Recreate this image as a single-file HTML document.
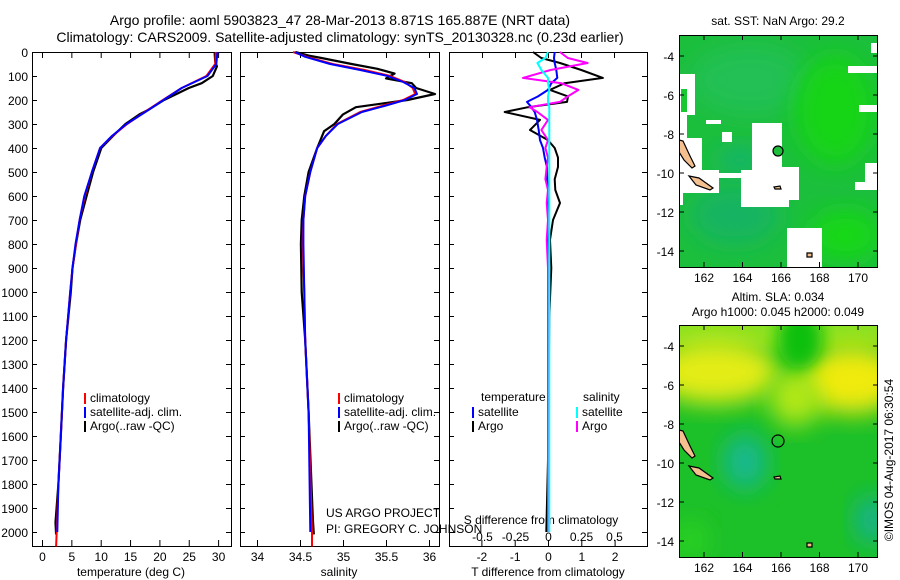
<!DOCTYPE html>
<html><head><meta charset="utf-8"><style>
html,body{margin:0;padding:0;background:#fff;}
svg{display:block;font-family:"Liberation Sans",sans-serif;}
text{font-size:12px;fill:#000;}
</style></head><body>
<svg id="fig" width="900" height="580" viewBox="0 0 900 580" xmlns="http://www.w3.org/2000/svg">
<defs>
<filter id="blur" x="-30%" y="-30%" width="160%" height="160%"><feGaussianBlur stdDeviation="12"/></filter>
<filter id="blur2" x="-30%" y="-30%" width="160%" height="160%"><feGaussianBlur stdDeviation="8"/></filter>
<clipPath id="clipTop"><rect x="679" y="35" width="198" height="232"/></clipPath>
<clipPath id="clipBot"><rect x="679" y="325" width="198" height="232"/></clipPath>
</defs>
<text x="340" y="25" text-anchor="middle" style="font-size:14px">Argo profile: aoml 5903823_47 28-Mar-2013 8.871S 165.887E (NRT data)</text>
<text x="340" y="42" text-anchor="middle" style="font-size:14px">Climatology: CARS2009. Satellite-adjusted climatology: synTS_20130328.nc (0.23d earlier)</text>
<g id="panels"></g>

<!-- top map: SST -->
<g>
<text x="778" y="25" text-anchor="middle">sat. SST: NaN Argo: 29.2</text>
<g clip-path="url(#clipTop)">
<rect x="679" y="35" width="198" height="232" fill="#1cbf3c"/>
<ellipse cx="750" cy="80" rx="60" ry="35" fill="#22c055" filter="url(#blur)"/>
<ellipse cx="835" cy="110" rx="40" ry="55" fill="#18d418" filter="url(#blur)"/>
<ellipse cx="845" cy="235" rx="35" ry="25" fill="#14d816" filter="url(#blur)"/>
<ellipse cx="735" cy="215" rx="45" ry="30" fill="#14b462" filter="url(#blur)"/>
<ellipse cx="740" cy="160" rx="25" ry="15" fill="#12b46a" filter="url(#blur)"/>
<g fill="#fff">
<rect x="679" y="74" width="16" height="41"/>
<rect x="679" y="115" width="8" height="78"/>
<rect x="679" y="138" width="23" height="32"/>
<rect x="679" y="170" width="40" height="23"/>
<rect x="719" y="173" width="22" height="5"/>
<rect x="741" y="170" width="28" height="37"/>
<rect x="752" y="123" width="30" height="50"/>
<rect x="769" y="167" width="20" height="40"/>
<rect x="789" y="167" width="10" height="33"/>
<rect x="706" y="120" width="15" height="4"/>
<rect x="722" y="132" width="10" height="10"/>
<rect x="787" y="228" width="35" height="39"/>
<rect x="848" y="66" width="29" height="7"/>
<rect x="859" y="105" width="18" height="7"/>
<rect x="871" y="43" width="6" height="10"/>
<rect x="865" y="163" width="12" height="27"/>
<rect x="855" y="182" width="13" height="8"/>
<rect x="679" y="193" width="4" height="12"/>
</g>
<rect x="681" y="89" width="6" height="23" fill="#18c830"/>
<g fill="#f5c08f" stroke="#000" stroke-width="1.2">
<polygon points="679,140 683,141 690,156 695,166 692,168 684,160 679,152"/>
<polygon points="689,176 699,178 713,188 710,190 696,185"/>
<polygon points="774,187 780,186 781,189 775,189"/>
<polygon points="807,253 812,253 812,257 807,257"/>
</g>
</g>
<circle cx="778" cy="151" r="5" fill="#1dbf3a" stroke="#000" stroke-width="1.2"/>
<rect x="679.5" y="35.5" width="198" height="232" fill="none" stroke="#000"/>
<g id="sstAxes"></g>
</g>

<!-- bottom map: SLA -->
<g>
<text x="778" y="301" text-anchor="middle">Altim. SLA: 0.034</text>
<text x="778" y="316" text-anchor="middle">Argo h1000: 0.045 h2000: 0.049</text>
<g clip-path="url(#clipBot)">
<rect x="679" y="325" width="198" height="232" fill="#1cc028"/>
<rect x="650" y="300" width="260" height="50" fill="#88e020" filter="url(#blur2)"/>
<ellipse cx="715" cy="372" rx="65" ry="32" fill="#e4ec14" filter="url(#blur)"/>
<ellipse cx="852" cy="380" rx="52" ry="34" fill="#f0ea10" filter="url(#blur)"/>
<ellipse cx="795" cy="398" rx="26" ry="28" fill="#b4e818" filter="url(#blur)"/>
<ellipse cx="800" cy="338" rx="22" ry="30" fill="#10c010" filter="url(#blur2)"/>
<ellipse cx="745" cy="462" rx="22" ry="28" fill="#14b890" filter="url(#blur)"/>
<ellipse cx="872" cy="520" rx="18" ry="25" fill="#14b28a" filter="url(#blur)"/>
<ellipse cx="690" cy="540" rx="20" ry="20" fill="#2cd020" filter="url(#blur)"/>
<g fill="#f5c08f" stroke="#000" stroke-width="1.2">
<polygon points="679,430 683,431 690,446 695,456 692,458 684,450 679,442"/>
<polygon points="689,466 699,468 713,478 710,480 696,475"/>
<polygon points="774,477 780,476 781,479 775,479"/>
<polygon points="807,543 812,543 812,547 807,547"/>
</g>
</g>
<circle cx="778" cy="441" r="6" fill="none" stroke="#000" stroke-width="1.2"/>
<rect x="679.5" y="325.5" width="198" height="232" fill="none" stroke="#000"/>
<g id="slaAxes"></g>
</g>
<text transform="translate(893,460) rotate(-90)" text-anchor="middle">©IMOS 04-Aug-2017 06:30:54</text>
<text x="326" y="517">US ARGO PROJECT</text>
<text x="326" y="533">PI: GREGORY C. JOHNSON</text>
</svg>
<script>
// ---- data ----
const depthTicks = [0,100,200,300,400,500,600,700,800,900,1000,1100,1200,1300,1400,1500,1600,1700,1800,1900,2000];
const tempTicks = [0,5,10,15,20,25,30];
const salTicks = [34,34.5,35,35.5,36];
const tdiffTicks = [-2,-1,0,1,2];
const sdiffTicks = [-0.5,-0.25,0,0.25,0.5];

const tDepth = [0,50,100,150,200,250,300,350,400,500,600,700,800,900,1000,1200,1400,1600,1800,2000,2060];
const tempClim = [29.6,29.5,28,23.8,20.6,17.5,14.5,12,9.9,8.5,7.3,6.4,5.8,5.2,4.8,4.1,3.6,3.2,2.8,2.5,2.4];
const tempSat  = [29.9,29.7,28.2,23.8,20.7,17.6,14.4,11.9,9.9,8.5,7.2,6.4,5.7,5.2,4.8,4.1,3.6,3.2,2.8,2.6,2.6];
const aDepth = [0,40,60,100,130,150,200,240,260,300,350,400,500,600,700,800,900,1000,1200,1400,1600,1800,1960,2010];
const tempArgo = [29.4,29.5,29.8,29.1,27.2,25,20.8,18.2,16.6,14.2,12.1,10.1,8.7,7.6,6.5,5.8,5.2,4.9,4.1,3.6,3.2,2.8,2.3,2.4];

const sDepth = [0,20,50,75,100,125,150,175,200,225,250,300,350,400,500,600,700,800,1000,1200,1500,2000,2060];
const salClim = [34.42,34.58,34.88,35.25,35.55,35.72,35.81,35.84,35.7,35.45,35.2,34.93,34.8,34.7,34.62,34.56,34.54,34.53,34.55,34.56,34.6,34.64,34.64];
const salSat  = [34.44,34.56,34.85,35.2,35.52,35.7,35.83,35.86,35.72,35.48,35.22,34.94,34.8,34.7,34.62,34.56,34.54,34.54,34.55,34.56,34.6,34.62,34.62];
const saDepth = [0,15,25,50,70,90,100,110,130,150,175,200,230,260,300,330,400,500,600,700,800,1000,1200,1500,1950,2010];
const salArgo = [34.45,34.6,34.75,35.1,35.4,35.6,35.55,35.5,35.8,35.85,36.07,35.75,35.15,35.0,34.9,34.78,34.7,34.6,34.55,34.52,34.51,34.52,34.56,34.6,34.65,34.66];

const dDepth = [0,25,46,75,108,130,158,185,208,230,250,283,325,367,400,440,479,530,575,629,700,783,900,1100,1400,1700,2000];
const tdiffArgo = [-0.45,-0.2,0.36,1.0,1.65,0.5,0.06,0.6,0.57,-0.6,-1.3,-0.24,-0.54,0,0.2,0.3,0.3,0.2,0.22,0.36,0.15,0.06,0.1,0.04,0.02,0.0,-0.05];
const tdiffSat  = [0.2,0.18,0.2,0.25,0.28,0.1,0.0,-0.3,-0.63,-0.5,-0.4,-0.33,-0.28,-0.24,-0.15,-0.1,-0.03,-0.02,0,0,0,0,0,0,0,0,0];
const sdiffArgo = [0.09,0.15,0.3,0.02,-0.19,0.1,0.23,0.15,0.09,-0.14,-0.08,0,-0.05,0,-0.02,0,-0.01,-0.02,0,-0.01,0.0,-0.01,0,0,0,0,0];
const sdiffSat  = [0,-0.02,-0.08,-0.05,0,0.0,0.01,0.0,0.0,0.01,0.01,0.01,0.01,0.01,0.01,0.01,0.01,0.01,0.01,0.01,0.01,0.01,0.01,0.01,0.01,0.01,0.01];

const sstLonTicks = [162,164,166,168,170];
const sstLatTicks = [-4,-6,-8,-10,-12,-14];

// ---- setup ----
const NS = 'http://www.w3.org/2000/svg';
const root = document.getElementById('panels');
const yTop = 52, pxPer = 0.24;
function yScale(d){ return yTop + d*pxPer; }
const panelTop = 52, panelBot = 546;
function mk(tag, attrs, parent){
  const e = document.createElementNS(NS, tag);
  for (const k in attrs) e.setAttribute(k, attrs[k]);
  (parent||root).appendChild(e);
  return e;
}
function txt(x,y,s,anchor,name,parent){
  const t = mk('text',{x:x,y:y,'text-anchor':anchor||'middle'},parent);
  t.textContent = s;
  
  
  return t;
}
function series(xs, ds, xf, color, w, name){
  let d='';
  for (let i=0;i<xs.length;i++) d += (i?'L':'M') + xf(xs[i]).toFixed(1) + ',' + yScale(ds[i]).toFixed(1);
  const p = mk('path',{d:d,fill:'none',stroke:color,'stroke-width':w,'stroke-linejoin':'round'});
  
  
}
function frame(x0,x1,name){
  const r = mk('rect',{x:x0+0.5,y:panelTop+0.5,width:x1-x0,height:panelBot-panelTop,fill:'none',stroke:'#000'});
  
  
  for (const d of depthTicks){
    const y = yScale(d)+0.5;
    const t1 = mk('path',{d:`M${x0},${y}h5M${x1},${y}h-5`,stroke:'#000'});
    
    
  }
}
function xticks(x0,x1,ticks,xf,name,labelY,top){
  for (const v of ticks){
    const x = xf(v)+0.5;
    const t = mk('path',{d:`M${x},${panelBot}v-6`+(top?`M${x},${panelTop}v6`:''),stroke:'#000'});
    
    
    if (labelY) txt(x, labelY, String(v), 'middle', name+'-label');
  }
}

for (const d of depthTicks) txt(28, yScale(d)+5, String(d), 'end', 'depth-label');

// panel 1 temperature
const tx = v => 42 + v*5.87;
frame(32,231,'temperature-panel');
xticks(32,231,tempTicks,tx,'temperature-x',561,true);
txt(131,576,'temperature (deg C)','middle','temperature-axis-title');
series(tempArgo,aDepth,tx,'#000',2.2,'temperature-argo-line');
series(tempClim,tDepth,tx,'#f00',2,'temperature-climatology-line');
series(tempSat,tDepth.slice(0,20),tx,'#00f',2,'temperature-satellite-line');

// panel 2 salinity
const sx = v => 257 + (v-34)*86;
frame(240,439,'salinity-panel');
xticks(240,439,salTicks,sx,'salinity-x',561,true);
txt(339,576,'salinity','middle','salinity-axis-title');
series(salArgo,saDepth,sx,'#000',2.2,'salinity-argo-line');
series(salClim,sDepth,sx,'#f00',2,'salinity-climatology-line');
series(salSat,sDepth.slice(0,22),sx,'#00f',2,'salinity-satellite-line');

// panel 3 differences
const dtx = v => 548 + v*33.3;
const dsx = v => 548 + v*132;
frame(449,647,'difference-panel');
xticks(449,647,tdiffTicks,dtx,'tdiff-x',561,false);
for (const v of sdiffTicks){
  const x = dsx(v)+0.5;
  const t = mk('path',{d:`M${x},${panelTop}v6`,stroke:'#000'});
  
  
  txt(x, 541, String(v), 'middle', 'sdiff-label');
}
txt(541,524,'S difference from climatology','middle','sdiff-axis-title');
txt(548,576,'T difference from climatology','middle','tdiff-axis-title');
series(tdiffArgo,dDepth,dtx,'#000',2,'tdiff-argo-line');
series(tdiffSat,dDepth,dtx,'#00f',2,'tdiff-satellite-line');
series(sdiffArgo,dDepth,dsx,'#f0f',2,'sdiff-argo-line');
series(sdiffSat,dDepth,dsx,'#0ff',2,'sdiff-satellite-line');

// legends
function legItem(x,y,color,label,name){
  const b = mk('rect',{x:x,y:y-9,width:2,height:11,fill:color});
  
  
  txt(x+6,y,label,'start',name);
}
legItem(84,402,'#f00','climatology','legend-climatology');
legItem(84,416,'#00f','satellite-adj. clim.','legend-satellite');
legItem(84,430,'#000','Argo(..raw -QC)','legend-argo');
legItem(338,402,'#f00','climatology','legend2-climatology');
legItem(338,416,'#00f','satellite-adj. clim.','legend2-satellite');
legItem(338,430,'#000','Argo(..raw -QC)','legend2-argo');
txt(481,401,'temperature','start','legend3-temperature-header');
txt(583,401,'salinity','start','legend3-salinity-header');
legItem(472,416,'#00f','satellite','legend3-t-satellite');
legItem(472,430,'#000','Argo','legend3-t-argo');
legItem(576,416,'#0ff','satellite','legend3-s-satellite');
legItem(576,430,'#f0f','Argo','legend3-s-argo');

// map axes
function mapAxes(gid, top, bot, latY0){
  const g = document.getElementById(gid);
  for (const lon of sstLonTicks){
    const x = 704 + (lon-162)*19.25;
    const t = mk('path',{d:`M${x},${top}v5M${x},${bot}v-5`,stroke:'#000'},g);
    
    
    txt(x, bot+15, String(lon), 'middle', 'lon-label', g);
  }
  for (const lat of sstLatTicks){
    const y = latY0 + (-4-lat)*19.5;
    const t = mk('path',{d:`M679,${y}h5M878,${y}h-5`,stroke:'#000'},g);
    
    
    txt(674, y+5, String(lat), 'end', 'lat-label', g);
  }
}
mapAxes('sstAxes',35,267,56);
mapAxes('slaAxes',325,557,346);
</script>
</body></html>
